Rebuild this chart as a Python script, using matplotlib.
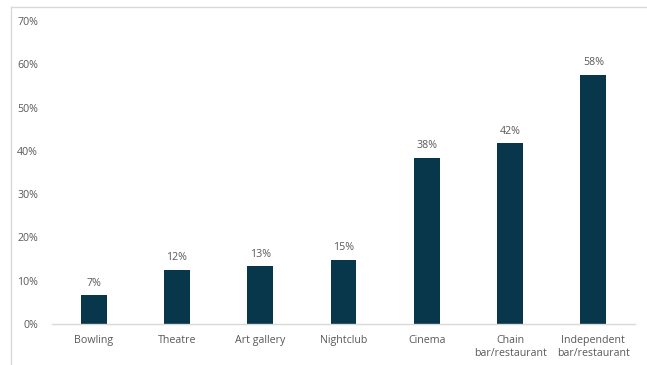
import matplotlib
matplotlib.use("Agg")
import matplotlib.pyplot as plt
from matplotlib.lines import Line2D

categories = ["Bowling", "Theatre", "Art gallery", "Nightclub", "Cinema",
              "Chain\nbar/restaurant", "Independent\nbar/restaurant"]
values = [6.6, 12.4, 13.3, 14.9, 38.3, 41.7, 57.5]
labels = ["7%", "12%", "13%", "15%", "38%", "42%", "58%"]
yticks = [0, 10, 20, 30, 40, 50, 60, 70]

plt.rcParams['font.family'] = ['Open Sans', 'DejaVu Sans']
txt = '#595959'
bar_color = '#08364A'

fig = plt.figure(figsize=(6.47, 3.65), dpi=100)
ax = fig.add_axes([52/647, 41/365, 583/647, 303/365])
x = range(len(categories))
bars = ax.bar(x, values, width=0.31, color=bar_color)
for xi, v, lab in zip(x, values, labels):
    ax.text(xi, v + 1.6, lab, ha='center', va='bottom', fontsize=7.7, color=txt)

ax.set_xlim(-0.5, len(categories) - 0.5)
ax.set_ylim(0, 70)
ax.set_yticks(yticks)
ax.set_yticklabels([f"{t}%" for t in yticks], fontsize=7.7, color=txt)
ax.set_xticks(list(x))
ax.set_xticklabels(categories, fontsize=7.7, color=txt, linespacing=1.25)
ax.tick_params(axis='both', length=0)
ax.tick_params(axis='y', pad=10)
ax.tick_params(axis='x', pad=8)
for s in ['top', 'right', 'left']:
    ax.spines[s].set_visible(False)
ax.spines['bottom'].set_color('#d9d9d9')
ax.spines['bottom'].set_linewidth(1)

# figure frame (top and left edges)
fig.add_artist(Line2D([11/647, 11/647], [0, 1 - 7/365], color='#d9d9d9', lw=1, transform=fig.transFigure))
fig.add_artist(Line2D([11/647, 1], [1 - 7/365, 1 - 7/365], color='#d9d9d9', lw=1, transform=fig.transFigure))

fig.savefig("out.png", dpi=100)
